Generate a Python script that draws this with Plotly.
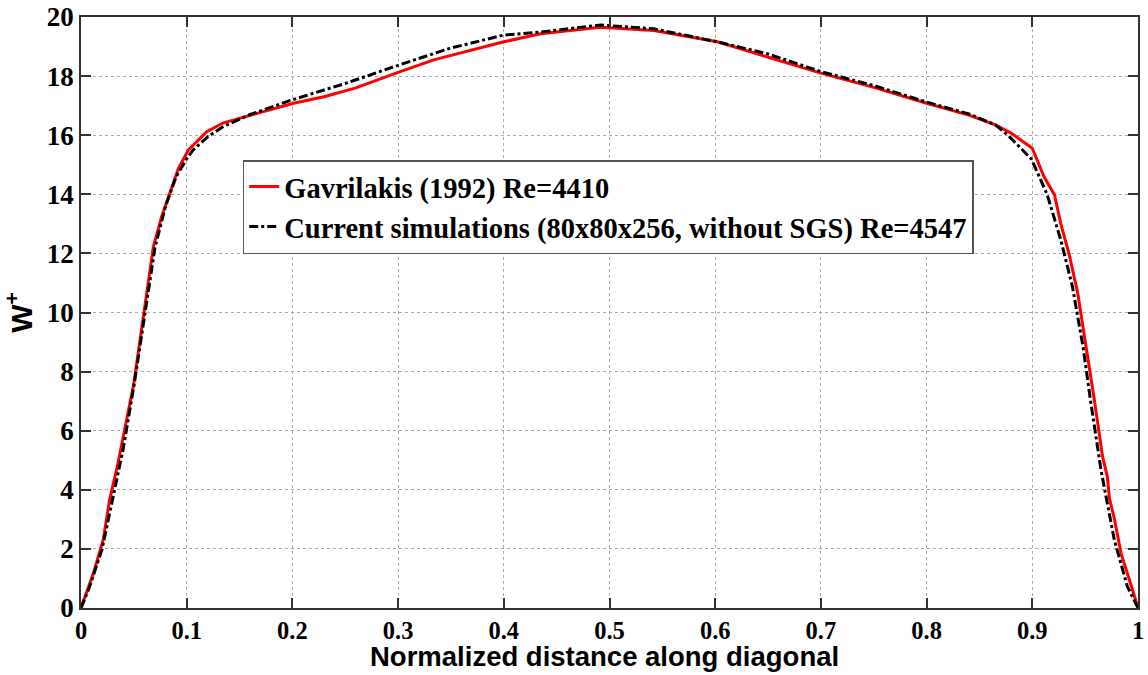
import plotly.graph_objects as go

gav_x = [0.0, 0.012, 0.021, 0.027, 0.035, 0.043, 0.05, 0.058, 0.0685, 0.0763, 0.0922, 0.1016, 0.119,
         0.1348, 0.16, 0.201, 0.23, 0.26, 0.302, 0.3337, 0.4, 0.4347, 0.4915, 0.542, 0.602, 0.633,
         0.7, 0.75, 0.8, 0.84, 0.865, 0.88, 0.9, 0.911, 0.921, 0.927, 0.935, 0.943, 0.951, 0.9587,
         0.9665, 0.971, 0.973, 0.9776, 0.984, 0.9886, 0.9934, 1.0]
gav_y = [0.0, 1.2, 2.3, 3.65, 4.9, 6.3, 7.6, 9.6, 12.23, 13.24, 14.88, 15.5, 16.12,
         16.42, 16.68, 17.08, 17.3, 17.6, 18.15, 18.55, 19.16, 19.43, 19.65, 19.54, 19.16, 18.83,
         18.1, 17.62, 17.08, 16.68, 16.35, 16.07, 15.56, 14.6, 13.98, 13.0, 11.95, 10.65, 8.84, 7.04,
         5.12, 4.44, 3.71, 3.03, 1.85, 1.29, 0.78, 0.0]

sim_x = [0.0, 0.008, 0.02, 0.03, 0.04, 0.05, 0.06, 0.07, 0.08, 0.09, 0.1, 0.106, 0.12, 0.135,
         0.16, 0.2, 0.25, 0.302, 0.349, 0.4, 0.435, 0.4915, 0.542, 0.602, 0.65, 0.7, 0.75, 0.8,
         0.84, 0.865, 0.877, 0.899, 0.914, 0.927, 0.938, 0.948, 0.955, 0.965, 0.9776, 0.99, 1.0]
sim_y = [0.0, 0.7, 2.0, 3.7, 5.4, 7.5, 9.9, 12.2, 13.6, 14.6, 15.2, 15.5, 15.95, 16.3,
         16.7, 17.2, 17.75, 18.39, 18.94, 19.39, 19.49, 19.73, 19.6, 19.16, 18.75, 18.15, 17.68, 17.12,
         16.72, 16.35, 16.0, 15.2, 14.0, 12.45, 10.87, 8.84, 7.04, 4.67, 2.3, 0.72, 0.0]

x_ticks = [0, 0.1, 0.2, 0.3, 0.4, 0.5, 0.6, 0.7, 0.8, 0.9, 1]
x_labels = ["0", "0.1", "0.2", "0.3", "0.4", "0.5", "0.6", "0.7", "0.8", "0.9", "1"]
y_ticks = [0, 2, 4, 6, 8, 10, 12, 14, 16, 18, 20]
y_labels = ["0", "2", "4", "6", "8", "10", "12", "14", "16", "18", "20"]
x_title = "Normalized distance along diagonal"

fig = go.Figure()
fig.add_trace(go.Scatter(x=gav_x, y=gav_y, mode="lines", name="<b>Gavrilakis (1992) Re=4410</b>",
                         line=dict(color="#ff0000", width=3)))
fig.add_trace(go.Scatter(x=sim_x, y=sim_y, mode="lines",
                         name="<b>Current simulations (80x80x256, without SGS) Re=4547</b>",
                         line=dict(color="#000000", width=3, dash="dashdot")))

axis_common = dict(showline=True, linecolor="#333333", linewidth=1.5, mirror="allticks",
                   ticks="inside", ticklen=10, tickcolor="#333333", tickwidth=1.5,
                   showgrid=True, gridcolor="#aaaaaa", griddash="dot", gridwidth=1,
                   zeroline=False, automargin=False)

fig.update_layout(
    width=1148, height=675,
    margin=dict(l=81, r=10, t=17, b=67),
    paper_bgcolor="white", plot_bgcolor="white",
    font=dict(family="Liberation Serif", color="black"),
    xaxis=dict(range=[0, 1], tickvals=x_ticks, ticktext=["<b>%s</b>" % t for t in x_labels],
               tickfont=dict(family="Liberation Serif", size=24.5, color="black"),
               **axis_common),
    yaxis=dict(range=[0, 20], tickvals=y_ticks, ticktext=["<b>%s</b>" % t for t in y_labels],
               tickfont=dict(family="Liberation Serif", size=27, color="black"),
               title=dict(text="<b>W<sup>+</sup></b>",
                          font=dict(family="Liberation Sans", size=30, color="black"), standoff=8),
               **axis_common),
    legend=dict(x=0.153, y=0.758, xanchor="left", yanchor="top",
                bgcolor="white", bordercolor="#555555", borderwidth=1.5,
                font=dict(family="Liberation Serif", size=28.5, color="black"),
                itemwidth=30, tracegroupgap=0),
    showlegend=True,
)

fig.add_annotation(text="<b>%s</b>" % x_title, xref="paper", yref="paper",
                   x=0.495, y=-0.1125, xanchor="center", yanchor="bottom", showarrow=False,
                   font=dict(family="Liberation Sans", size=27.5, color="black"))

fig.write_html("out.html")
